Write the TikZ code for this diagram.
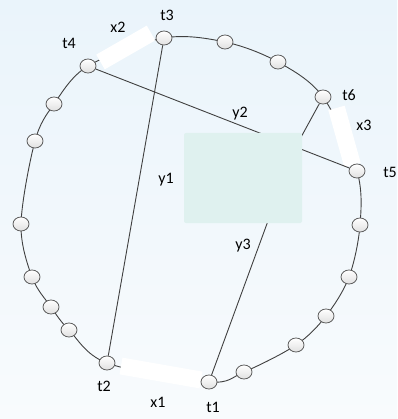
\documentclass[tikz,border=0pt]{standalone}
\usepackage{fontspec}
\setmainfont{Carlito}
\usetikzlibrary{shapes.geometric}
\definecolor{bgtop}{HTML}{EAF4FB}
\definecolor{bgbot}{HTML}{F8FBFD}
\definecolor{panel}{HTML}{DFF1EF}
\definecolor{ink}{HTML}{404040}
\pgfdeclarelayer{bg}
\pgfsetlayers{bg,main}
\tikzset{
  vtx/.style={ellipse, draw=ink!85, line width=0.8pt, minimum width=16pt, minimum height=14pt,
    inner sep=0pt, top color=white, bottom color=black!12},
  lbl/.style={font=\fontsize{16}{19}\selectfont, text=black, inner sep=0pt},
  chord/.style={draw=ink, line width=0.9pt},
  band/.style={draw=white, line width=17pt, line cap=butt},
}
\begin{document}
\begin{tikzpicture}[x=1pt,y=-1pt]
\useasboundingbox (0,0) rectangle (397,419);
% vertices on the ring, clockwise from t3
\node[vtx] (t3) at (164,38) {};
\node[vtx] (c1) at (225,42) {};
\node[vtx] (c2) at (278,62) {};
\node[vtx] (t6) at (323,97) {};
\node[vtx] (t5) at (357,171) {};
\node[vtx] (c3) at (360,225) {};
\node[vtx] (c4) at (349,277) {};
\node[vtx] (c5) at (326,316) {};
\node[vtx] (c6) at (296,345) {};
\node[vtx] (c7) at (244,372) {};
\node[vtx] (t1) at (209,382) {};
\node[vtx] (t2) at (107,363) {};
\node[vtx] (c8) at (69,330) {};
\node[vtx] (c9) at (51,307) {};
\node[vtx] (c10) at (32,277) {};
\node[vtx] (c11) at (21,224) {};
\node[vtx] (c12) at (35,141) {};
\node[vtx] (c13) at (54,104) {};
\node[vtx] (t4) at (88,66) {};
% band end points
\coordinate (x2a) at (100.5,62);
\coordinate (x2b) at (151,33);
\coordinate (x3a) at (336.5,108);
\coordinate (x3b) at (352.5,165);
\coordinate (x1a) at (121,366);
\coordinate (x1b) at (201,380);
% bend of the t6--t1 chord, hidden under the panel
\coordinate (k3) at (294,150);
\begin{pgfonlayer}{bg}
  \shade[top color=bgtop, bottom color=bgbot] (0,0) rectangle (397,419);
  % the ring
  \draw[ink, line width=0.9pt] plot[smooth cycle, tension=0.55] coordinates
    {(t3) (c1) (c2) (t6) (t5) (c3) (c4) (c5) (c6) (c7) (t1) (t2) (c8) (c9) (c10) (c11) (c12) (c13) (t4)};
  % highlighted ring edges
  \draw[band] (x2a) -- (x2b);
  \draw[band] (x3a) -- (x3b);
  \draw[band] (x1a) -- (x1b);
  % chords
  \draw[chord] (t3) -- (t2);
  \draw[chord] (t4) -- (t5);
  \draw[chord] (t6) -- (k3) -- (t1);
  % central panel
  \fill[panel, rounded corners=2pt] (184,133) rectangle (302,223);
\end{pgfonlayer}
% labels
\node[lbl] (lt3) at (167,15) {t3};
\node[lbl] (lt4) at (69,43) {t4};
\node[lbl] (lx2) at (118,27) {x2};
\node[lbl] (ly1) at (166,180) {y1};
\node[lbl] (lt6) at (349,95) {t6};
\node[lbl] (lx3) at (364,125) {x3};
\node[lbl] (lt5) at (390,172) {t5};
\node[lbl] (ly2) at (240,114) {y2};
\node[lbl] (lt2) at (104,386) {t2};
\node[lbl] (lx1) at (158,402) {x1};
\node[lbl] (lt1) at (213,407) {t1};
\node[lbl] (ly3) at (243,246) {y3};
\end{tikzpicture}
\end{document}
